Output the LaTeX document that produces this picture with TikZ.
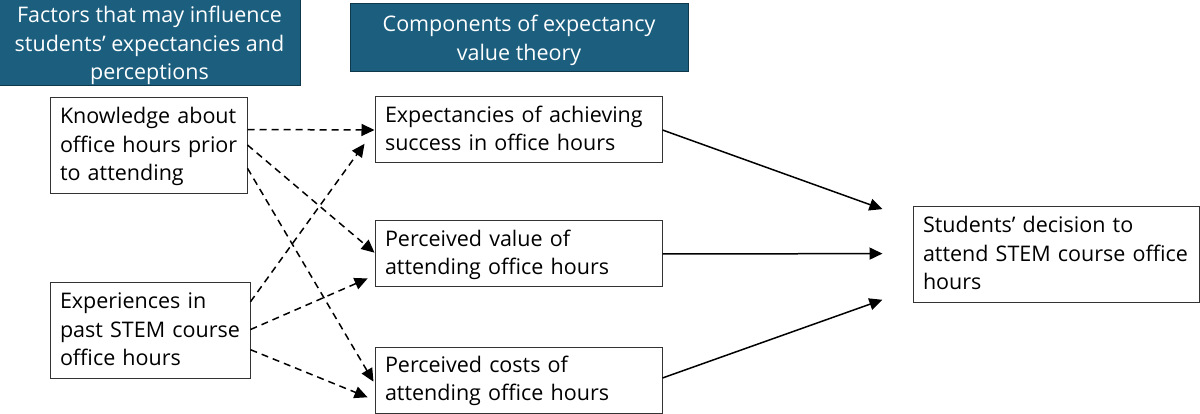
\documentclass[tikz,border=0pt]{standalone}
\usepackage{fontspec}
\setmainfont{Open Sans}
\usetikzlibrary{arrows.meta,calc}
\definecolor{headblue}{HTML}{1B5E7E}
\definecolor{boxline}{HTML}{333333}
\newcommand\tstrut[1]{\rule{0pt}{#1}}
\newcommand\bstrut{\rule[-6pt]{0pt}{6pt}}
\tikzset{
  header/.style={fill=headblue,draw=headblue!60!black,line width=1pt,text=white,align=center,inner sep=0pt,font=\fontsize{21.5}{28.5}\selectfont},
  box/.style={draw=boxline,line width=1pt,fill=white,align=left,inner xsep=10pt,inner ysep=0pt,font=\fontsize{21.5}{28.5}\selectfont},
  solidarrow/.style={line width=1.5pt,-{Triangle[length=13pt,width=12pt]}},
  dasharrow/.style={line width=1.5pt,dash pattern=on 7pt off 5pt,-{Triangle[length=13pt,width=12pt]}}
}
\begin{document}
\begin{tikzpicture}[x=1pt,y=-1pt]
\useasboundingbox (0,0) rectangle (1200,414);
\node[header,minimum width=301pt,minimum height=88pt] (h1) at (149.5,42) {\tstrut{25pt}Factors that may influence\\students’ expectancies and\\perceptions\bstrut};
\node[header,minimum width=338pt,minimum height=68pt] (h2) at (519,38) {\tstrut{22pt}Components of expectancy\\value theory\bstrut};
\node[box,minimum width=197pt,minimum height=96pt,text width=177pt] (know) at (148.5,146) {\tstrut{19pt}Knowledge~about\\office~hours~prior\\to~attending\bstrut};
\node[box,minimum width=200pt,minimum height=95pt,text width=180pt] (exp) at (150,330.5) {\tstrut{19pt}Experiences~in\\past~STEM~course\\office~hours\bstrut};
\node[box,minimum width=287pt,minimum height=66pt,text width=267pt] (expc) at (518.5,130) {\tstrut{19pt}Expectancies~of~achieving\\success~in~office~hours\bstrut};
\node[box,minimum width=287pt,minimum height=66pt,text width=267pt] (val) at (518.5,254) {\tstrut{19pt}Perceived~value~of\\attending~office~hours\bstrut};
\node[box,minimum width=287pt,minimum height=66pt,text width=267pt] (cost) at (518.5,380) {\tstrut{19pt}Perceived~costs~of\\attending~office~hours\bstrut};
\node[box,minimum width=286pt,minimum height=95pt,text width=266pt] (dec) at (1056,254.5) {\tstrut{20pt}Students’~decision~to\\attend~STEM~course~office\\hours\bstrut};
% dashed
\draw[dasharrow] ($(know.north east)!0.33!(know.south east)$) -- (expc.west);
\draw[dasharrow] ($(know.north east)!0.49!(know.south east)$) -- ($(val.north west)!0.48!(val.south west)$);
\draw[dasharrow,shorten >=2pt] ($(know.north east)!0.73!(know.south east)$) -- ($(cost.north west)!0.55!(cost.south west)$);
\draw[dasharrow,shorten >=17pt] ($(exp.north east)!0.2!(exp.south east)$) -- (expc.west);
\draw[dasharrow,shorten >=7.5pt] ($(exp.north east)!0.49!(exp.south east)$) -- ($(val.north west)!0.82!(val.south west)$);
\draw[dasharrow,shorten >=7.5pt] ($(exp.north east)!0.7!(exp.south east)$) -- ($(cost.north west)!0.8!(cost.south west)$);
% solid
\draw[solidarrow,shorten >=32pt] (expc.east) -- ($(dec.north west)!0.14!(dec.south west)$);
\draw[solidarrow,shorten >=30pt] (val.east) -- ($(dec.north west)!0.49!(dec.south west)$);
\draw[solidarrow,shorten >=32pt] ($(cost.north east)!0.47!(cost.south east)$) -- ($(dec.north west)!0.86!(dec.south west)$);
\end{tikzpicture}
\end{document}
